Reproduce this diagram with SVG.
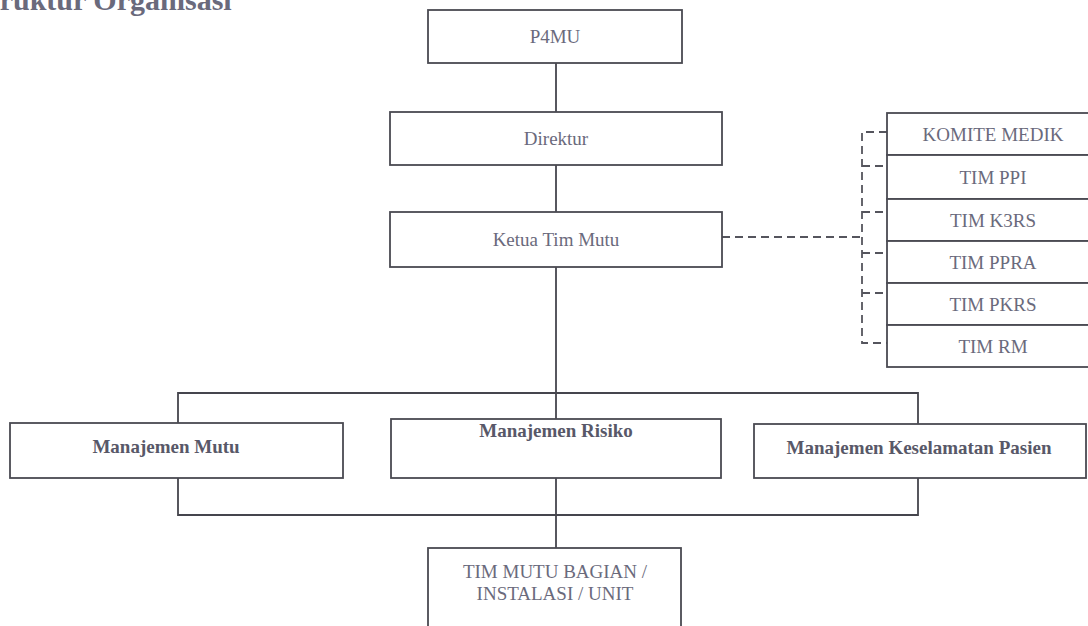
<svg xmlns="http://www.w3.org/2000/svg" width="1088" height="626" viewBox="0 0 1088 626">
<style>
  .box { fill: #ffffff; stroke: #4a4a52; stroke-width: 1.8; }
  .ln { fill: none; stroke: #45454d; stroke-width: 1.8; }
  .dash { fill: none; stroke: #55555d; stroke-width: 1.8; stroke-dasharray: 8 5; }
  .t { font-family: "Liberation Serif", "Times New Roman", serif; font-size: 19px; fill: #6a6a7c; text-anchor: middle; }
  .tb { font-family: "Liberation Serif", "Times New Roman", serif; font-size: 19px; font-weight: bold; fill: #585868; text-anchor: middle; }
  .title { font-family: "Liberation Serif", "Times New Roman", serif; font-size: 30px; font-weight: bold; fill: #6a6a7c; }
</style>
<rect x="0" y="0" width="1088" height="626" fill="#ffffff"/>
<text class="title" x="-27" y="10">Struktur Organisasi</text>

<g id="connectors">
  <line class="ln" x1="556" y1="63" x2="556" y2="112"/>
  <line class="ln" x1="556" y1="165" x2="556" y2="212"/>
  <line class="ln" x1="556" y1="267" x2="556" y2="419"/>
  <path class="ln" d="M178 423 V393 H918 V424"/>
  <path class="ln" d="M178 478 V515 H918 V478"/>
  <line class="ln" x1="556" y1="478" x2="556" y2="548"/>
  <line class="dash" x1="722" y1="237" x2="862" y2="237"/>
  <path class="dash" d="M887 132 H862 V343 H887"/>
  <line class="dash" x1="862" y1="166" x2="887" y2="166"/>
  <line class="dash" x1="862" y1="212" x2="887" y2="212"/>
  <line class="dash" x1="862" y1="253" x2="887" y2="253"/>
  <line class="dash" x1="862" y1="293" x2="887" y2="293"/>
</g>

<g id="p4mu"><rect class="box" x="428" y="10" width="254" height="53"/><text class="t" x="555" y="43">P4MU</text></g>
<g id="direktur"><rect class="box" x="390" y="112" width="332" height="53"/><text class="t" x="556" y="145">Direktur</text></g>
<g id="ketua"><rect class="box" x="390" y="212" width="332" height="55"/><text class="t" x="556" y="246">Ketua Tim Mutu</text></g>

<g id="komite-medik"><rect class="box" x="887" y="113" width="220" height="42"/><text class="t" x="993" y="141">KOMITE MEDIK</text></g>
<g id="tim-ppi"><rect class="box" x="887" y="155" width="220" height="44"/><text class="t" x="993" y="184">TIM PPI</text></g>
<g id="tim-k3rs"><rect class="box" x="887" y="199" width="220" height="42"/><text class="t" x="993" y="227">TIM K3RS</text></g>
<g id="tim-ppra"><rect class="box" x="887" y="241" width="220" height="42"/><text class="t" x="993" y="269">TIM PPRA</text></g>
<g id="tim-pkrs"><rect class="box" x="887" y="283" width="220" height="42"/><text class="t" x="993" y="311">TIM PKRS</text></g>
<g id="tim-rm"><rect class="box" x="887" y="325" width="220" height="42"/><text class="t" x="993" y="353">TIM RM</text></g>

<g id="manajemen-mutu"><rect class="box" x="10" y="423" width="333" height="55"/><text class="tb" x="166" y="453">Manajemen Mutu</text></g>
<g id="manajemen-risiko"><rect class="box" x="391" y="419" width="330" height="59"/><text class="tb" x="556" y="437">Manajemen Risiko</text></g>
<g id="manajemen-keselamatan"><rect class="box" x="754" y="424" width="332" height="54"/><text class="tb" x="919" y="454">Manajemen Keselamatan Pasien</text></g>

<g id="tim-mutu-bagian"><rect class="box" x="428" y="548" width="253" height="100"/><text class="t" x="555" y="578">TIM MUTU BAGIAN /</text><text class="t" x="555" y="600">INSTALASI / UNIT</text></g>
</svg>
